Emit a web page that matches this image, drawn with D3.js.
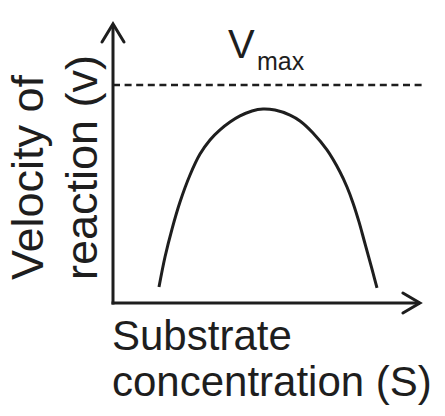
<!DOCTYPE html>
<html>
<head>
<meta charset="utf-8">
<script src="https://cdn.jsdelivr.net/npm/d3@7"></script>
<style>
  html, body { margin: 0; padding: 0; background: #fff; }
  svg { display: block; }
  text { font-family: "Liberation Sans", Arial, sans-serif; fill: #1e1e1e; }
</style>
</head>
<body>
<svg id="chart" width="445" height="416"></svg>
<script>
// ---- data ----
const substrate = [1.533, 1.733, 1.967, 2.233, 2.567, 2.9, 3.233, 3.567, 3.9, 4.233, 4.633, 5.0,
                   5.4, 5.9, 6.233, 6.667, 7.133, 7.567, 7.8, 8.0, 8.2, 8.367, 8.533, 8.667, 8.8];
const velocity  = [0.073, 0.211, 0.339, 0.463, 0.587, 0.683, 0.748, 0.794, 0.830, 0.858, 0.881, 0.890,
                   0.885, 0.862, 0.835, 0.780, 0.702, 0.601, 0.532, 0.459, 0.372, 0.289, 0.206, 0.138, 0.069];
const vmax = 1;
const xAxisMax = 10.23;   // arrow tip of the x axis
const yAxisMax = 1.28;    // arrow tip of the y axis
const vmaxLineEnd = 10.3;
const xLabelLines = ["Substrate", "concentration (S)"];
const yLabelLines = ["Velocity of", "reaction (v)"];
const vmaxLabel = "V";
const vmaxSub = "max";

// ---- scales ----
const x = d3.scaleLinear().domain([0, 10]).range([113, 413]);
const y = d3.scaleLinear().domain([0, 1]).range([303, 85]);

const svg = d3.select("#chart");
const ink = "#1e1e1e";

// Vmax dashed line
svg.append("line")
  .attr("x1", x(0)).attr("x2", x(vmaxLineEnd))
  .attr("y1", y(vmax)).attr("y2", y(vmax))
  .attr("stroke", ink).attr("stroke-width", 2.6)
  .attr("stroke-dasharray", "7,4.6");

// axes
svg.append("line")
  .attr("x1", x(0)).attr("x2", x(0))
  .attr("y1", y(0) + 1.5).attr("y2", y(yAxisMax))
  .attr("stroke", ink).attr("stroke-width", 3);
svg.append("line")
  .attr("x1", x(0) - 1.5).attr("x2", x(xAxisMax))
  .attr("y1", y(0)).attr("y2", y(0))
  .attr("stroke", ink).attr("stroke-width", 3);

// arrowheads (open chevrons)
const yt = [x(0), y(yAxisMax)];
svg.append("path")
  .attr("d", `M${yt[0]-11},${yt[1]+18} L${yt[0]},${yt[1]} L${yt[0]+11},${yt[1]+18}`)
  .attr("fill", "none").attr("stroke", ink).attr("stroke-width", 3)
  .attr("stroke-linecap", "round").attr("stroke-linejoin", "miter");
const xt = [x(xAxisMax), y(0)];
svg.append("path")
  .attr("d", `M${xt[0]-17},${xt[1]-10} L${xt[0]},${xt[1]} L${xt[0]-17},${xt[1]+10}`)
  .attr("fill", "none").attr("stroke", ink).attr("stroke-width", 3)
  .attr("stroke-linecap", "round").attr("stroke-linejoin", "miter");

// curve
const pts = substrate.map((s, i) => [s, velocity[i]]);
const line = d3.line().x(d => x(d[0])).y(d => y(d[1])).curve(d3.curveCatmullRom.alpha(0.5));
svg.append("path")
  .attr("d", line(pts))
  .attr("fill", "none").attr("stroke", ink).attr("stroke-width", 3)
  .attr("stroke-linecap", "butt");

// Vmax label
const vl = svg.append("text").attr("x", 228).attr("y", 58).style("font-size", "40px");
vl.append("tspan").text(vmaxLabel);
vl.append("tspan").attr("x", 257).attr("y", 70).style("font-size", "25px").text(vmaxSub);

// x label
svg.append("g").selectAll("text").data(xLabelLines).join("text")
  .attr("x", 112).attr("y", (d, i) => 350 + i * 46)
  .style("font-size", "42px").text(d => d);

// y label
svg.append("g").selectAll("text").data(yLabelLines).join("text")
  .attr("transform", (d, i) => `translate(${43 + i * 54},280) rotate(-90)`)
  .style("font-size", "45px").text(d => d);
</script>
</body>
</html>
